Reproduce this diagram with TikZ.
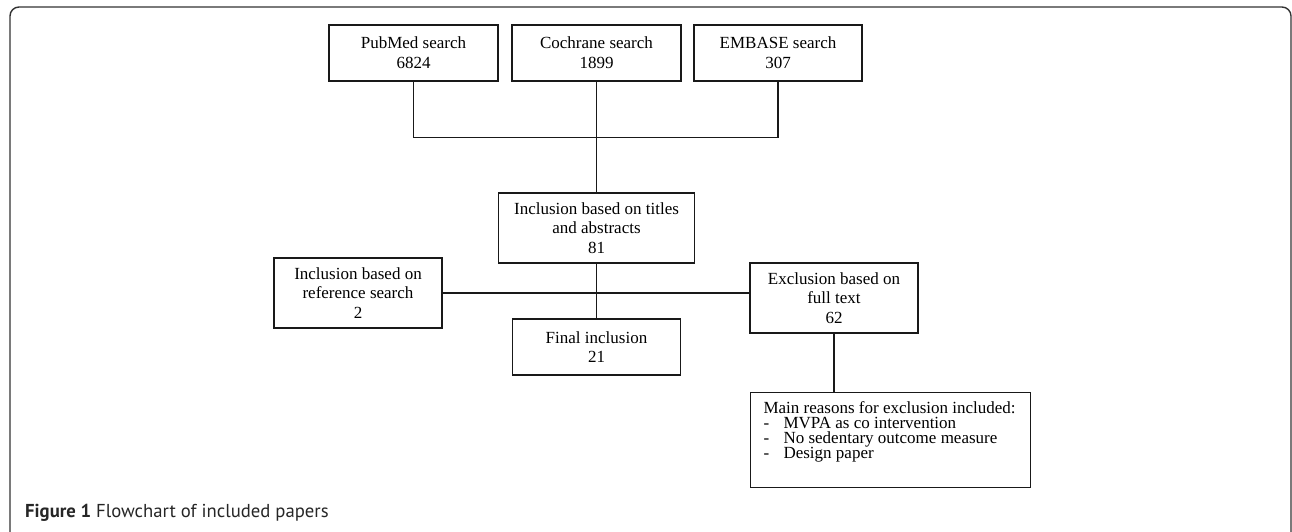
\documentclass[tikz,border=0pt]{standalone}
\usepackage{fontspec}
\setmainfont{Liberation Serif}
\newfontfamily\capfont{PT Sans}
\usetikzlibrary{calc}
\begin{document}
\begin{tikzpicture}
  [
    x = 1pt, y = -1pt,
    box/.style = {draw = black!90, line width = 1.1pt, align = center, inner sep = 2pt,
        font = \fontsize{17}{19.8}\selectfont},
    link/.style = {draw = black!90, line width = 1.1pt},
  ]

  \clip (0,0) rectangle (1292,532);
  \draw[line width = 1.4pt, black!80, rounded corners = 9pt] (10,7) rectangle (1291,548);

  \node[box, minimum width = 169pt, minimum height = 56pt] (pubmed) at (413.5,53) {PubMed search\\6824};
  \node[box, minimum width = 169pt, minimum height = 56pt] (cochrane) at (596.5,53) {Cochrane search\\1899};
  \node[box, minimum width = 168pt, minimum height = 56pt] (embase) at (778,53) {EMBASE search\\307};

  \node[box, minimum width = 196pt, minimum height = 70pt] (titles) at (596.5,228) {Inclusion based on titles\\and abstracts\\81};
  \node[box, minimum width = 168pt, minimum height = 70pt] (refsearch) at (358,293) {Inclusion based on\\reference search\\2};
  \node[box, minimum width = 168pt, minimum height = 56pt] (final) at (596.5,347) {Final inclusion\\21};
  \node[box, minimum width = 168pt, minimum height = 70pt] (fulltext) at (834,298) {Exclusion based on\\full text\\62};

  \node[box, anchor = north west, align = left, inner xsep = 13pt, inner ysep = 9.4pt] (reasons) at (750,392)
    {\parbox[t][76pt][t]{254pt}{\baselineskip=15pt
      Main reasons for exclusion included:\\
      \makebox[20pt][l]{-}MVPA as co intervention\\
      \makebox[20pt][l]{-}No sedentary outcome measure\\
      \makebox[20pt][l]{-}Design paper}};

  \coordinate (join) at ($(pubmed.south)+(0,56)$);
  \draw[link] (pubmed.south) -- (join) -| (embase.south);
  \draw[link] (cochrane.south) -- (titles.north);
  \draw[link] (titles.south) -- (final.north);
  \draw[link] (refsearch.east) -- (refsearch.east -| fulltext.west);
  \draw[link] (fulltext.south) -- (reasons.north -| fulltext.south);

  \node[anchor = base west, inner sep = 0pt, text = black!85,
    font = \capfont\fontsize{18.7}{22}\selectfont] (caption) at (25,517)
    {\textbf{Figure 1} Flowchart of included papers};

\end{tikzpicture}
\end{document}
